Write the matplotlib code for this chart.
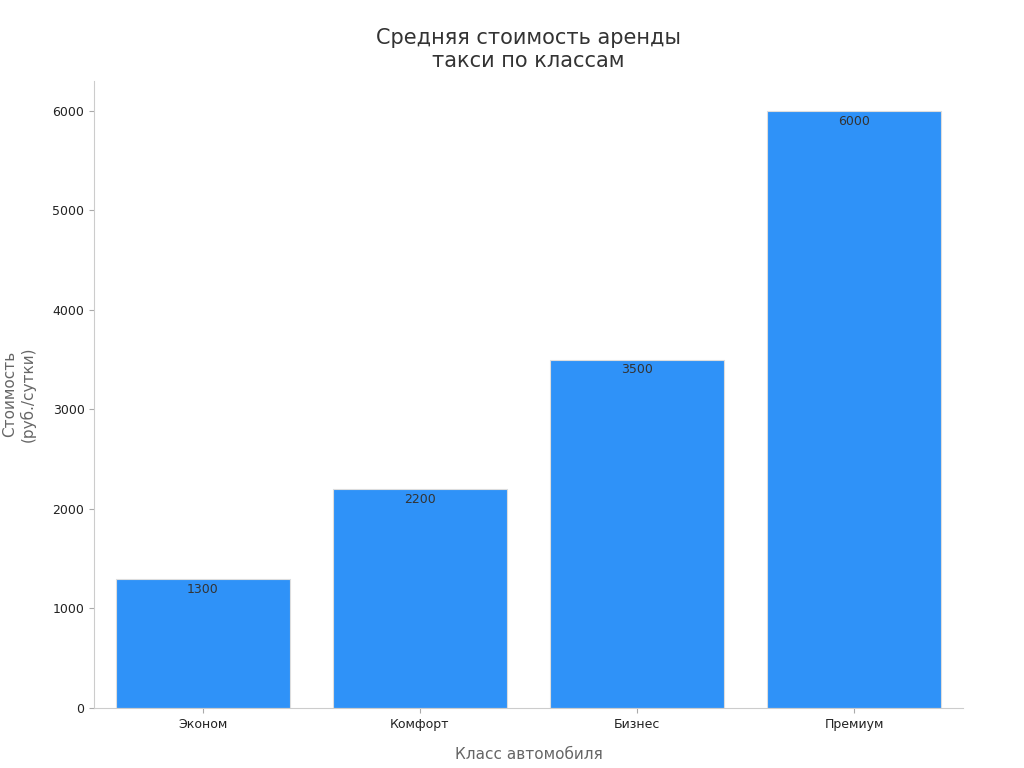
import matplotlib
matplotlib.use("Agg")
import matplotlib.pyplot as plt

categories = ["Эконом", "Комфорт", "Бизнес", "Премиум"]
values = [1300, 2200, 3500, 6000]

fig, ax = plt.subplots(figsize=(10.24, 7.68), dpi=100)
fig.subplots_adjust(left=0.092, right=0.94, top=0.895, bottom=0.078)
bars = ax.bar(categories, values, color="#2F92F8", width=0.8, edgecolor="#dddddd", linewidth=0.8)
for b, v in zip(bars, values):
    ax.text(b.get_x() + b.get_width()/2, v - 40, str(v), ha="center", va="top", fontsize=9, color="#333333")
ax.set_ylim(0, 6300)
ax.set_xlim(-0.5, 3.5)
ax.set_yticks(range(0, 6001, 1000))
ax.tick_params(labelsize=9, color="#aaaaaa", labelcolor="#222222")
for s in ["top", "right"]:
    ax.spines[s].set_visible(False)
for s in ["left", "bottom"]:
    ax.spines[s].set_color("#cccccc")
ax.set_title("Средняя стоимость аренды\nтакси по классам", fontsize=15, color="#333333", pad=10)
ax.set_xlabel("Класс автомобиля", fontsize=11, color="#666666", labelpad=12)
ax.set_ylabel("Стоимость\n(руб./сутки)", fontsize=11, color="#666666", labelpad=12)
fig.savefig("out.png")
